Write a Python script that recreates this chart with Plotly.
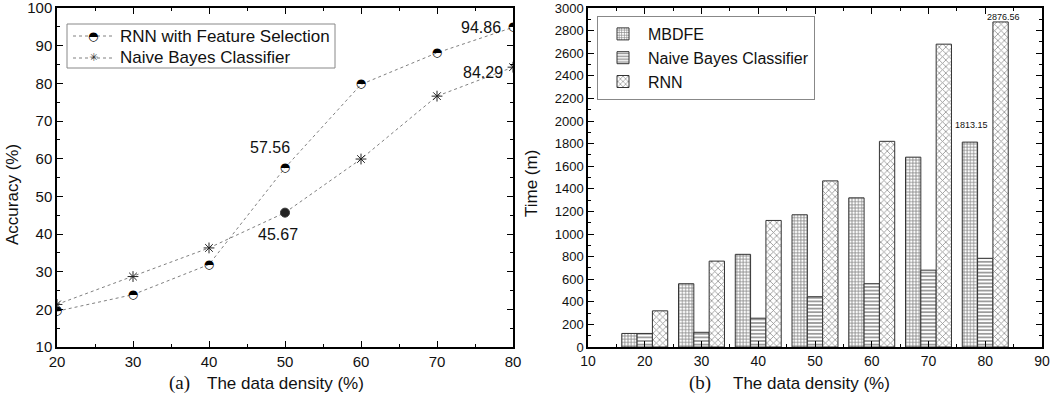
import plotly.graph_objects as go

# ---- data: left chart (accuracy) ----
density_a = [20, 30, 40, 50, 60, 70, 80]
rnn_fs_acc = [19.5, 23.9, 31.9, 57.56, 79.7, 88.1, 94.86]
nb_acc = [21.3, 28.7, 36.3, 45.67, 59.9, 76.6, 84.29]
nb_symbols = ["asterisk-open", "asterisk-open", "asterisk-open", "circle",
              "asterisk-open", "asterisk-open", "asterisk-open"]

# ---- data: right chart (time) ----
density_b = [20, 30, 40, 50, 60, 70, 80]
mbdfe_time = [120, 560, 820, 1170, 1320, 1680, 1813.15]
nb_time = [120, 130, 255, 445, 560, 680, 785]
rnn_time = [320, 760, 1120, 1470, 1820, 2680, 2876.56]

W, H = 1052, 399
FONT = "Liberation Sans, Arial, sans-serif"
GLYPH_FONT = "DejaVu Sans"
BAR_W = 2.7
TOP, BOT = 8, 347            # plot area in pixels
PH = BOT - TOP


def px(x):
    return x / W


def py(y):
    return (BOT - y) / PH


fig = go.Figure()

# ---- left chart ----
fig.add_trace(go.Scatter(
    x=density_a, y=rnn_fs_acc, mode="lines", name="RNN with Feature Selection",
    line=dict(color="#808080", width=1, dash="dot"), showlegend=False,
    xaxis="x", yaxis="y"))
fig.add_trace(go.Scatter(
    x=density_a, y=rnn_fs_acc, mode="text", text=["◓"] * len(density_a),
    textfont=dict(family=GLYPH_FONT, size=12, color="black"), showlegend=False,
    xaxis="x", yaxis="y", hoverinfo="skip"))
fig.add_trace(go.Scatter(
    x=density_a, y=nb_acc, mode="lines+markers", name="Naive Bayes Classifier",
    line=dict(color="#808080", width=1, dash="dot"),
    marker=dict(symbol=nb_symbols, size=9, color="#222",
                line=dict(color="#333", width=1)),
    showlegend=False, xaxis="x", yaxis="y"))

# ---- right chart ----
patterns = [("MBDFE", mbdfe_time, "+", -BAR_W, 3.2, 0.45, "#111"),
            ("Naive Bayes Classifier", nb_time, "-", 0.0, 3.6, 0.45, "#222"),
            ("RNN", rnn_time, "x", BAR_W, 4.6, 0.32, "#222")]
for name, vals, shape, off, psize, sol, fg in patterns:
    fig.add_trace(go.Bar(
        x=[d + off for d in density_b], y=vals, name=name, width=BAR_W,
        marker=dict(color="white", line=dict(color="#333", width=1),
                    pattern=dict(shape=shape, size=psize, solidity=sol,
                                 fgcolor=fg, bgcolor="white",
                                 fillmode="overlay")),
        xaxis="x2", yaxis="y2"))

axis_common = dict(showline=True, linecolor="black", linewidth=1.5, mirror="allticks",
                   ticks="inside", ticklen=6, tickwidth=1, tickcolor="black",
                   showgrid=False, zeroline=False, automargin=False,
                   ticklabeloverflow="allow",
                   tickfont=dict(family=FONT, size=15, color="#111"))
minor = lambda d: dict(dtick=d, ticks="inside", ticklen=3, tickcolor="black")

fig.update_layout(
    width=W, height=H, margin=dict(l=0, r=0, t=TOP, b=H - BOT, autoexpand=False),
    paper_bgcolor="white", plot_bgcolor="white",
    font=dict(family=FONT, color="#111"),
    xaxis=dict(domain=[px(57), px(513)], range=[20, 80], dtick=10, minor=minor(5),
               anchor="y", **axis_common),
    yaxis=dict(domain=[0, 1], range=[10, 100], dtick=10, minor=minor(5),
               anchor="x", **axis_common),
    xaxis2=dict(domain=[px(588), px(1042)], range=[10, 90], dtick=10, minor=minor(5),
                anchor="y2", **axis_common),
    yaxis2=dict(domain=[0, 1], range=[0, 3000], dtick=200, minor=minor(100),
                anchor="x2", **axis_common),
    barmode="overlay",
    legend=dict(x=px(597), y=py(16), xanchor="left", yanchor="top",
                bordercolor="#888", borderwidth=1, bgcolor="white",
                font=dict(family=FONT, size=16, color="#111"),
                itemwidth=40, tracegroupgap=0),
    showlegend=True,
)
fig.update_yaxes(tickfont=dict(size=13), selector=dict(anchor="x2"))
fig.update_xaxes(tickfont=dict(size=14), selector=dict(anchor="y2"))

shapes = []
ann = []


def lab(x, y, text, xs, ys, xref="x", yref="y", size=16):
    ann.append(dict(x=x, y=y, xref=xref, yref=yref, text=text, showarrow=False,
                    xanchor="center", yanchor="middle",
                    xshift=xs, yshift=ys, font=dict(family=FONT, size=size, color="#111")))


def note(x, y, text, font, anchor="center", angle=0):
    ann.append(dict(x=px(x), y=py(y), xref="paper", yref="paper", text=text,
                    showarrow=False, xanchor=anchor, yanchor="middle",
                    textangle=angle, font=font))


# data labels
lab(density_a[3], rnn_fs_acc[3], f"{rnn_fs_acc[3]:.2f}", -15, 20)
lab(density_a[3], nb_acc[3], f"{nb_acc[3]:.2f}", -7, -22)
lab(density_a[6], rnn_fs_acc[6], f"{rnn_fs_acc[6]:.2f}", -32, 0)
lab(density_a[6], nb_acc[6], f"{nb_acc[6]:.2f}", -30, -5)
lab(density_b[6] - BAR_W, mbdfe_time[6], f"{mbdfe_time[6]:.2f}", 2, 17, "x2", "y2", 9)
lab(density_b[6] + BAR_W, rnn_time[6], f"{rnn_time[6]:.2f}", 3, 5, "x2", "y2", 9)

# manual legend for left chart (half-filled marker glyph)
shapes.append(dict(type="rect", xref="paper", yref="paper", x0=px(67), x1=px(335),
                   y0=py(68), y1=py(24), line=dict(color="#888", width=1),
                   fillcolor="white", layer="above"))
leg_rows = [("RNN with Feature Selection", 36, "◓", 12, "black"),
            ("Naive Bayes Classifier", 58, "✳", 11, "#333")]
for name, yy, glyph, gsize, gcol in leg_rows:
    shapes.append(dict(type="line", xref="paper", yref="paper", x0=px(73), x1=px(113),
                       y0=py(yy), y1=py(yy), line=dict(color="#808080", width=1, dash="dot"),
                       layer="above"))
    note(93, yy, glyph, dict(family=GLYPH_FONT, size=gsize, color=gcol))
    note(118, yy, name, dict(family=FONT, size=17, color="#111"), anchor="left")

# axis titles
serif = dict(family="Liberation Serif, Times New Roman, serif", size=19, color="#111")
sans = dict(family=FONT, size=17, color="#111")
note(179, 383, "(a)", serif)
note(285, 383, "The data density (%)", sans)
note(700, 383, "(b)", serif)
note(811, 383, "The data density (%)", sans)
note(12, 195, "Accuracy (%)", sans, angle=-90)
note(531, 184, "Time (m)", sans, angle=-90)
fig.update_layout(annotations=ann, shapes=shapes)

fig.write_html("out.html", config={"displayModeBar": False},
               post_script="document.body.style.margin='0';")
